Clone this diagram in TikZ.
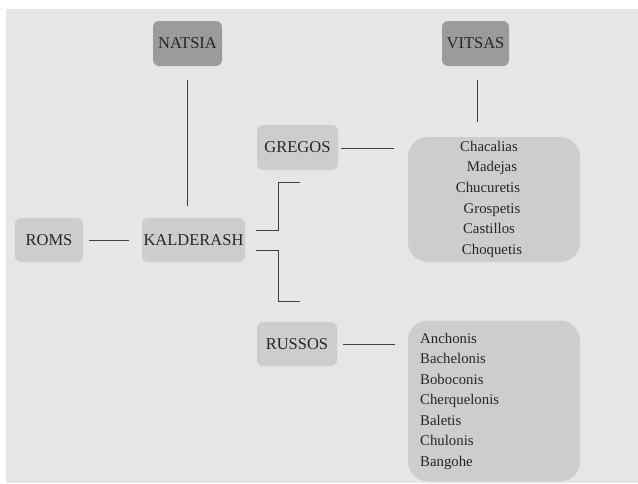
\documentclass[tikz,border=0pt]{standalone}
\usepackage{fontspec}
\setmainfont{Liberation Serif}
\begin{document}
\begin{tikzpicture}[x=1pt,y=-1pt,
  lbox/.style={fill=boxlight,rounded corners=6pt,inner sep=0pt,text=txt,font=\fontsize{16.5}{18}\selectfont},
  dbox/.style={fill=boxdark,rounded corners=6pt,inner sep=0pt,text=txt,font=\fontsize{16.5}{18}\selectfont},
  bigbox/.style={fill=boxlight,rounded corners=20pt,inner sep=0pt},
  item/.style={text=txt,font=\fontsize{14.8}{16}\selectfont,inner sep=0pt,text height=10pt,text depth=3.5pt},
  conn/.style={draw=linec,line width=1pt}]
\definecolor{bg}{HTML}{E6E6E6}
\definecolor{boxlight}{HTML}{CDCDCD}
\definecolor{boxdark}{HTML}{9B9B9B}
\definecolor{txt}{HTML}{262626}
\definecolor{linec}{HTML}{404040}
\useasboundingbox (0,0) rectangle (638,483);
\fill[white] (0,0) rectangle (638,483);
\fill[bg] (6,9) rectangle (638,483);
% boxes
\node[dbox,minimum width=69pt,minimum height=45pt] (natsia) at (187.5,43.5) {NATSIA};
\node[dbox,minimum width=67pt,minimum height=45pt] (vitsas) at (475.5,43.5) {VITSAS};
\node[lbox,minimum width=81pt,minimum height=45pt] (gregos) at (297.5,147.5) {GREGOS};
\node[lbox,minimum width=68pt,minimum height=44pt] (roms) at (49,240) {ROMS};
\node[lbox,minimum width=103pt,minimum height=44pt] (kald) at (193.5,240) {KALDERASH};
\node[lbox,minimum width=80pt,minimum height=44pt] (russos) at (297,344) {RUSSOS};
\node[bigbox,minimum width=172pt,minimum height=125pt] (gbox) at (494,199.5) {};
\node[bigbox,minimum width=172pt,minimum height=161pt] (rbox) at (494,401) {};
% Gregos list
\node[item] (g1) at (489,148) {Chacalias};
\node[item] (g2) at (492,168.5) {Madejas};
\node[item] (g3) at (488,189) {Chucuretis};
\node[item] (g4) at (492,210) {Grospetis};
\node[item] (g5) at (489,230.5) {Castillos};
\node[item] (g6) at (492,251) {Choquetis};
% Russos list
\node[item,anchor=west] (r1) at (420,340) {Anchonis};
\node[item,anchor=west] (r2) at (420,360.5) {Bachelonis};
\node[item,anchor=west] (r3) at (420,381) {Boboconis};
\node[item,anchor=west] (r4) at (420,401.5) {Cherquelonis};
\node[item,anchor=west] (r5) at (420,422) {Baletis};
\node[item,anchor=west] (r6) at (420,442.5) {Chulonis};
\node[item,anchor=west] (r7) at (420,463) {Bangohe};
% connectors
\coordinate (n1) at (187,80);
\coordinate (n2) at (187,206);
\draw[conn] (n1) -- (n2);
\coordinate (v1) at (477,80);
\coordinate (v2) at (477,122);
\draw[conn] (v1) -- (v2);
\coordinate (ga) at (341,148);
\coordinate (gb) at (394,148);
\draw[conn] (ga) -- (gb);
\coordinate (ra) at (343,344);
\coordinate (rb) at (395,344);
\draw[conn] (ra) -- (rb);
\coordinate (ma) at (89,240);
\coordinate (mb) at (129,240);
\draw[conn] (ma) -- (mb);
\coordinate (u0) at (256,230);
\coordinate (u1) at (300,182);
\draw[conn] (u0) -- (278.5,230) -- (278.5,182) -- (u1);
\coordinate (d0) at (256,250);
\coordinate (d1) at (300,301);
\draw[conn] (d0) -- (278.5,250) -- (278.5,301) -- (d1);
\end{tikzpicture}
\end{document}
